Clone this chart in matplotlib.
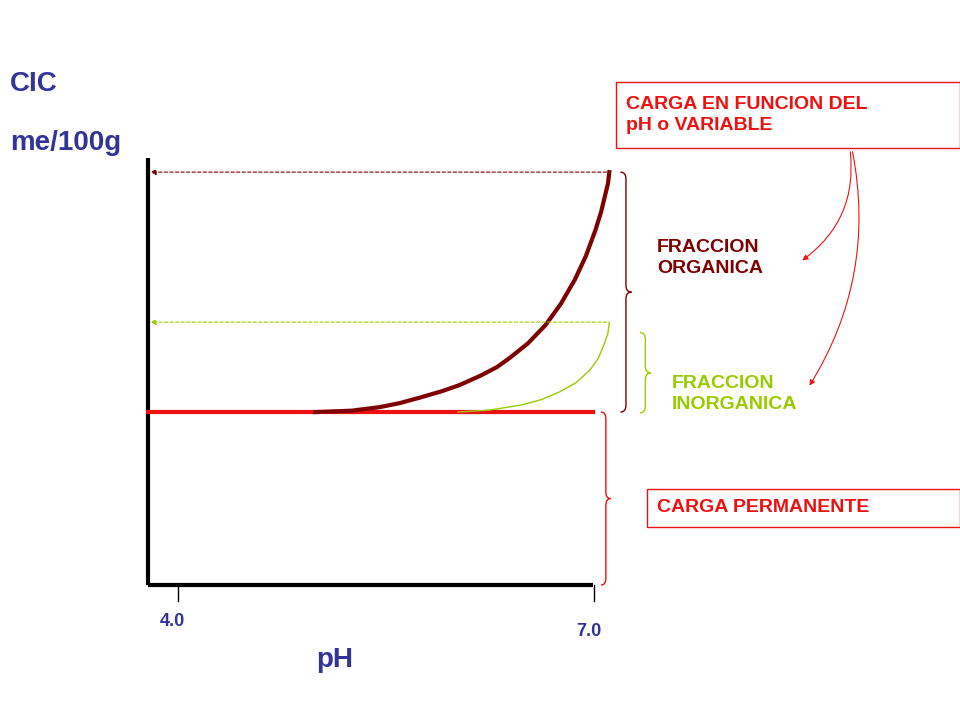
import matplotlib
matplotlib.use("Agg")
import matplotlib.pyplot as plt
from matplotlib.path import Path
from matplotlib.patches import PathPatch

# Data (pH, CIC units)
ph_ticks = [4.0, 7.0]
tick_labels = ["4.0", "7.0"]
ph_range = [3.78, 6.99]
permanent = 10.0
org_ph = [4.99, 5.25, 5.45, 5.60, 5.75, 5.90, 6.03, 6.18, 6.30, 6.39, 6.52, 6.65, 6.76, 6.86, 6.94, 7.01, 7.05, 7.08, 7.10, 7.11]
org_cic = [10.0, 10.08, 10.28, 10.52, 10.85, 11.20, 11.56, 12.10, 12.60, 13.12, 13.95, 15.03, 16.25, 17.63, 19.00, 20.52, 21.55, 22.54, 23.20, 23.87]
inorg_ph = [6.02, 6.25, 6.47, 6.62, 6.75, 6.87, 6.97, 7.03, 7.07, 7.10, 7.11]
inorg_cic = [10.0, 10.12, 10.40, 10.72, 11.16, 11.70, 12.43, 13.10, 13.87, 14.55, 15.2]
axis_top = 24.7

fig = plt.figure(figsize=(9.6, 7.2), dpi=100)
ax = fig.add_axes([0, 0, 1, 1])
ax.set_xlim(2.716, 9.639)
ax.set_ylim(-7.80, 33.82)
ax.axis("off")

blue = "#333399"
red = "#ee1111"
dred = "#7f0000"
green = "#99cc00"
F = "Liberation Sans"
FS = 14

x0 = ph_range[0]
ax.plot([x0, x0], [0, axis_top], color="black", lw=3, solid_capstyle="butt")
ax.plot([x0, ph_range[1]], [0, 0], color="black", lw=3, solid_capstyle="butt")
for t, lab, dy in zip(ph_ticks, tick_labels, [-2.1, -2.7]):
    ax.plot([t, t], [0, -0.9], color="black", lw=1)
    ax.text(t - 0.04, dy, lab, color=blue, fontsize=13, fontweight="bold", family=F, ha="center", va="center")

ax.plot(ph_range, [permanent, permanent], color=red, lw=3)
ax.plot(inorg_ph, inorg_cic, color=green, lw=1)
ax.plot(org_ph, org_cic, color=dred, lw=3)

ax.annotate("", xy=(x0, org_cic[-1]), xytext=(org_ph[-1], org_cic[-1]),
            arrowprops=dict(arrowstyle="-|>", color=dred, lw=0.8, ls=(0, (3, 2)), mutation_scale=8))
ax.annotate("", xy=(x0, inorg_cic[-1]), xytext=(inorg_ph[-1], inorg_cic[-1]),
            arrowprops=dict(arrowstyle="-|>", color=green, lw=0.8, ls=(0, (3, 2)), mutation_scale=8))

def brace(x, y0, y1, w, color):
    ym = (y0 + y1) / 2
    verts = [(x, y1), (x + w, y1), (x + w, y1 - 0.4), (x + w, ym + 0.4),
             (x + w, ym), (x + 2 * w, ym), (x + 2 * w, ym),
             (x + w, ym), (x + w, ym - 0.4), (x + w, y0 + 0.4),
             (x + w, y0), (x, y0)]
    codes = [Path.MOVETO, Path.CURVE3, Path.CURVE3, Path.LINETO,
             Path.CURVE3, Path.CURVE3, Path.MOVETO,
             Path.CURVE3, Path.CURVE3, Path.LINETO, Path.CURVE3, Path.CURVE3]
    ax.add_patch(PathPatch(Path(verts, codes), fill=False, color=color, lw=1))

brace(7.19, permanent, org_cic[-1], 0.04, dred)
brace(7.33, permanent - 0.05, 14.6, 0.04, green)
brace(7.05, 0.0, permanent, 0.035, red)

fig.text(10/960, 1-84/720, "CIC", color=blue, fontsize=20, fontweight="bold", family=F, va="center")
fig.text(10/960, 1-143/720, "me/100g", color=blue, fontsize=20, fontweight="bold", family=F, va="center")
fig.text(316/960, 1-660/720, "pH", color=blue, fontsize=20, fontweight="bold", family=F, va="center")

fig.text(657/960, 1-258/720, "FRACCION\nORGANICA", color=dred, fontsize=FS, fontweight="bold", family=F,
         va="center", linespacing=1.35)
fig.text(672/960, 1-394/720, "FRACCION\nINORGANICA", color=green, fontsize=FS, fontweight="bold", family=F,
         va="center", linespacing=1.35)
fig.text(626/960, 1-115/720, "CARGA EN FUNCION DEL\npH o VARIABLE", color=red, fontsize=FS, fontweight="bold",
         family=F, va="center", linespacing=1.35)
fig.patches.append(plt.Rectangle((616/960, 1-148/720), 344/960, 66/720, transform=fig.transFigure,
                                 fill=False, ec=red, lw=1))
fig.text(657/960, 1-508/720, "CARGA PERMANENTE", color=red, fontsize=FS, fontweight="bold", family=F, va="center")
fig.patches.append(plt.Rectangle((647/960, 1-527/720), 313/960, 38/720, transform=fig.transFigure,
                                 fill=False, ec=red, lw=1))

fig.add_artist(matplotlib.patches.FancyArrowPatch((850/960, 1-149/720), (800/960, 1-262/720),
               transform=fig.transFigure, connectionstyle="arc3,rad=-0.3", arrowstyle="-|>",
               color=red, lw=0.8, mutation_scale=8))
fig.add_artist(matplotlib.patches.FancyArrowPatch((852/960, 1-149/720), (808/960, 1-388/720),
               transform=fig.transFigure, connectionstyle="arc3,rad=-0.2", arrowstyle="-|>",
               color=red, lw=0.8, mutation_scale=8))

fig.savefig("out.png", dpi=100)
